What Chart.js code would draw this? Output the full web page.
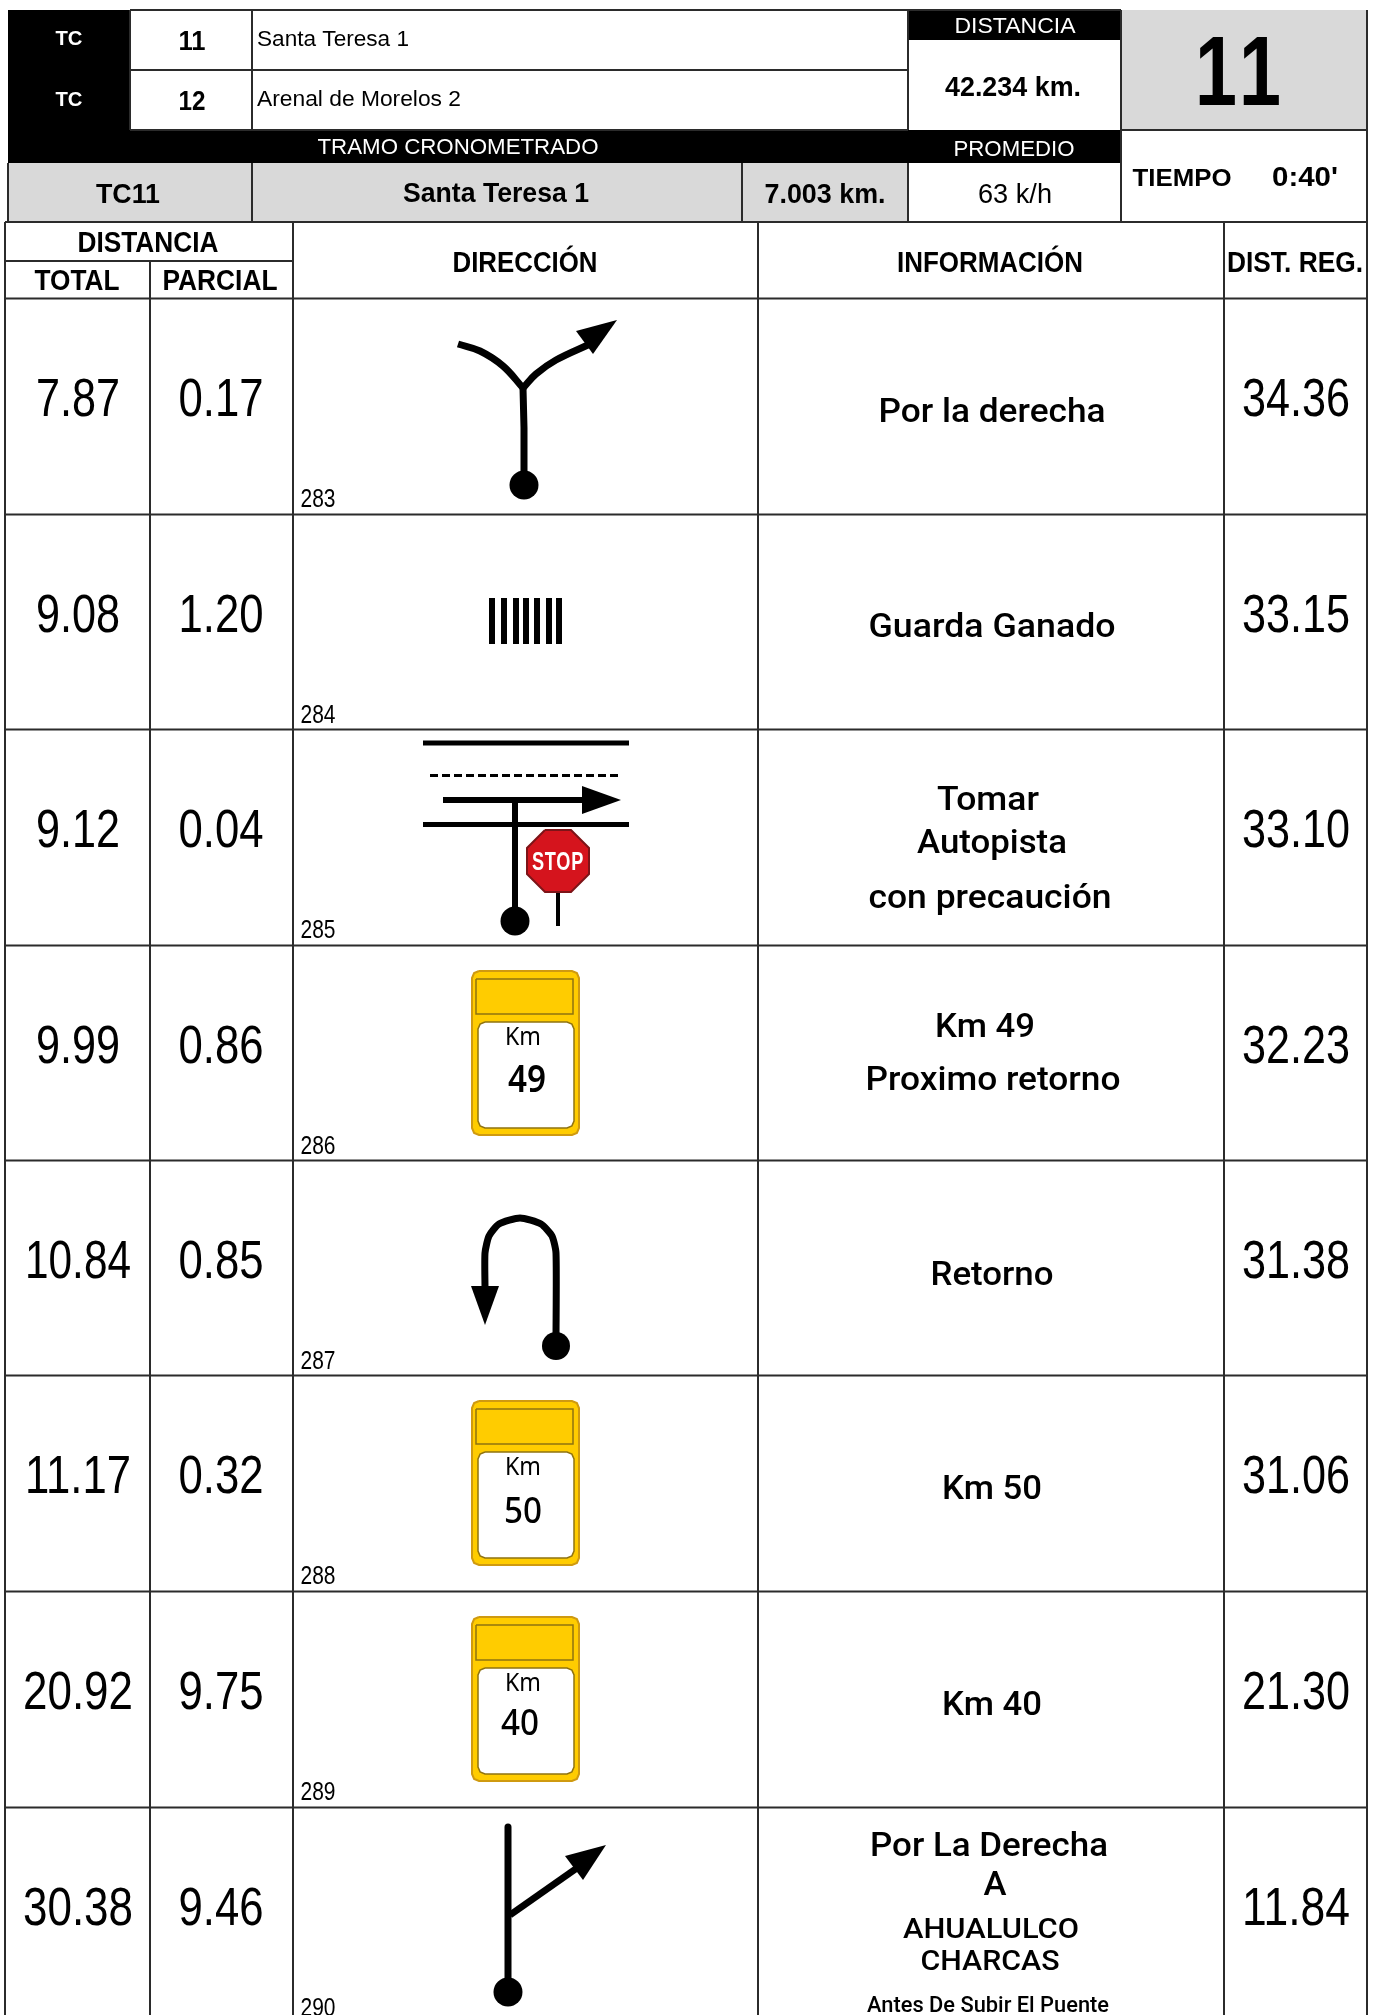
<!DOCTYPE html>
<html>
<head>
<meta charset="utf-8">
<title>TC11 Santa Teresa 1</title>
<style>
  html, body { margin: 0; padding: 0; background: #fff; overflow: hidden; }
  canvas { display: block; }
</style>
<script src="https://cdn.jsdelivr.net/npm/chart.js@4"></script>
</head>
<body>
<canvas id="routeChart" width="1373" height="2015"></canvas>
<script>
// Route table values
const totalKm = ['7.87', '9.08', '9.12', '9.99', '10.84', '11.17', '20.92', '30.38'];
const parcialKm = ['0.17', '1.20', '0.04', '0.86', '0.85', '0.32', '9.75', '9.46'];
const distReg = ['34.36', '33.15', '33.10', '32.23', '31.38', '31.06', '21.30', '11.84'];
const noteNumbers = ['283', '284', '285', '286', '287', '288', '289', '290'];
const infoLines = [
    ['Por la derecha'],
    ['Guarda Ganado'],
    ['Tomar', 'Autopista', 'con precaución'],
    ['Km 49', 'Proximo retorno'],
    ['Retorno'],
    ['Km 50'],
    ['Km 40'],
    ['Por La Derecha', 'A', 'AHUALULCO', 'CHARCAS', 'Antes De Subir El Puente']
];
const signKm = ['49', '50', '40'];

// Table layout, in the axis units of the chart
const rowEdges = [298, 514, 729, 945, 1160, 1375, 1591, 1807];
const totalWidths = [84, 84, 84, 84, 106, 106, 110, 110];
const infoSpec = [
    [[992, 124, 227, 33]],
    [[992, 123, 247, 33]],
    [[988, 81, 102, 33], [992, 124, 150, 33], [990, 179, 243, 33]],
    [[985, 92, 100, 33], [993, 145, 255, 33]],
    [[992, 125, 123, 33]],
    [[992, 124, 100, 33]],
    [[992, 124, 100, 33]],
    [[989, 49, 238, 34], [995, 88, 23, 34], [991, 131, 176, 28], [990, 163, 139, 28], [988, 205, 242, 22]]
];
const signSpec = [[3, 527, 147], [5, 523, 148], [6, 520, 144]];

const SANS = '"Liberation Sans", Arial, sans-serif';
const INFO_FONT = 'Roboto, "Noto Sans", sans-serif';
const SIGN_FONT = '"Noto Sans", sans-serif';
const LINE = '#2b2b2b';
const GREY = '#d9d9d9';

const shapes = [];
const texts = [];

function poly(points, color) {
    shapes.push({ data: points, fill: 'shape', backgroundColor: color, borderWidth: 0, pointRadius: 0 });
}
function box(x0, y0, x1, y1, color) {
    poly([{ x: x0, y: y0 }, { x: x1, y: y0 }, { x: x1, y: y1 }, { x: x0, y: y1 }, { x: x0, y: y0 }], color);
}
function roundBox(x0, y0, x1, y1, r, color, border, bw) {
    const c = r * 0.3;
    const pts = [
        [x0 + r, y0], [x1 - r, y0], [x1 - c, y0 + c], [x1, y0 + r], [x1, y1 - r], [x1 - c, y1 - c],
        [x1 - r, y1], [x0 + r, y1], [x0 + c, y1 - c], [x0, y1 - r], [x0, y0 + r], [x0 + c, y0 + c], [x0 + r, y0]
    ].map(p => ({ x: p[0], y: p[1] }));
    shapes.push({ data: pts, fill: 'shape', backgroundColor: color, borderColor: border, borderWidth: bw, pointRadius: 0 });
}
function stroke(points, width, color, extra) {
    shapes.push(Object.assign({
        data: points.map(p => ({ x: p[0], y: p[1] })),
        borderColor: color || '#000',
        borderWidth: width,
        pointRadius: 0,
        fill: false,
        borderCapStyle: 'butt'
    }, extra || {}));
}
function dot(x, y, r) {
    shapes.push({ data: [{ x: x, y: y }], pointRadius: r, pointBackgroundColor: '#000', pointBorderWidth: 0, showLine: false });
}
function head(top, points) {
    poly(points.concat([points[0]]).map(p => ({ x: p[0], y: top + p[1] })), '#000');
}
function label(s, x, y, w, size, opts) {
    texts.push(Object.assign({ s: s, x: x, y: y, w: w, size: size, weight: 'normal', family: SANS, color: '#000' }, opts || {}));
}
const bold = { weight: 'bold' };
const white = { color: '#fff' };

// Header backgrounds
box(8, 10, 130, 163, '#000');
box(130, 130, 1121, 163, '#000');
box(908, 10, 1121, 40, '#000');
box(8, 163, 908, 222, GREY);
box(1121, 10, 1367, 130, GREY);

// Header rules
[[130, 10, 1121, 10], [130, 70, 908, 70], [130, 130, 908, 130], [1121, 130, 1367, 130], [5, 222, 1367, 222],
 [1367, 10, 1367, 222], [130, 10, 130, 130], [252, 10, 252, 130], [908, 10, 908, 130], [1121, 10, 1121, 222],
 [252, 163, 252, 222], [742, 163, 742, 222], [908, 163, 908, 222], [8, 163, 8, 222]
].forEach(l => stroke([[l[0], l[1]], [l[2], l[3]]], 2, LINE));

// Icons
function fork(top) {
    stroke([[524, top + 178], [524, top + 130], [523, top + 90]], 7);
    stroke([[458, top + 46], [480, top + 53], [503, top + 68], [523, top + 90]], 7, '#000', { tension: 0.4 });
    stroke([[523, top + 90], [536, top + 76], [556, top + 62], [590, top + 46]], 7, '#000', { tension: 0.4 });
    head(top, [[617, 22], [576, 33], [593, 56]]);
    dot(524, top + 187, 14.5);
}
function cattleGrid(top) {
    [492, 504, 516, 526, 537, 549, 559].forEach(x => stroke([[x, top + 84], [x, top + 130]], 6));
}
function motorway(top) {
    stroke([[423, top + 14], [629, top + 14]], 5);
    stroke([[430, top + 46.5], [621, top + 46.5]], 3, '#000', { borderDash: [8, 4] });
    stroke([[443, top + 71], [585, top + 71]], 6);
    head(top, [[582, 57], [621, 71], [582, 85]]);
    stroke([[423, top + 95.5], [629, top + 95.5]], 5);
    stroke([[515, top + 71], [515, top + 190]], 6);
    dot(515, top + 192, 14.5);
    stroke([[558, top + 160], [558, top + 197]], 4);
    const cx = 558, cy = top + 132, a = 31, b = 13;
    const oct = [[-b, -a], [b, -a], [a, -b], [a, b], [b, a], [-b, a], [-a, b], [-a, -b], [-b, -a]]
        .map(p => ({ x: cx + p[0], y: cy + p[1] }));
    shapes.push({ data: oct, fill: 'shape', backgroundColor: '#d5141d', borderColor: '#7d1418', borderWidth: 2, pointRadius: 0 });
    label('STOP', 558, top + 141, 52, 25, { weight: 'bold', color: '#fff', spacing: 1 });
}
function sign(top) {
    roundBox(472, top + 26, 579, top + 190, 7, '#ffcc00', '#cf9a10', 2);
    box(476, top + 34, 573, top + 69, '#ffcc00');
    stroke([[476, top + 34], [573, top + 34], [573, top + 69], [476, top + 69], [476, top + 34]], 1.5, '#8f7310');
    roundBox(478, top + 77, 574, top + 183, 7, '#fff', '#8f7310', 1.5);
}
function uTurn(top) {
    stroke([[556, top + 180], [556, top + 93], [552, top + 76], [541, top + 64], [520, top + 58], [499, top + 64], [489, top + 76], [485, top + 93], [485, top + 128]],
        7, '#000', { tension: 0.2 });
    head(top, [[471, 126], [499, 126], [485, 165]]);
    dot(556, top + 186, 14);
}
function branch(top) {
    stroke([[508, top + 20], [508, top + 185]], 7, '#000', { borderCapStyle: 'round' });
    stroke([[510, top + 108], [577, top + 61]], 7);
    head(top, [[606, 38], [565, 49], [583, 73]]);
    dot(508, top + 185, 14.5);
}
fork(rowEdges[0]);
cattleGrid(rowEdges[1]);
motorway(rowEdges[2]);
sign(rowEdges[3]);
uTurn(rowEdges[4]);
sign(rowEdges[5]);
sign(rowEdges[6]);
branch(rowEdges[7]);

// Body grid
rowEdges.forEach(y => stroke([[5, y + 0.5], [1367, y + 0.5]], 2, LINE));
stroke([[5, 261], [293, 261]], 2, LINE);
[[5, 222], [150, 261], [293, 222], [758, 222], [1224, 222], [1367, 222]].forEach(c =>
    stroke([[c[0], c[1]], [c[0], 2015]], 2, LINE));

// Header text
label('TC', 69, 45, 27, 20, { weight: 'bold', color: '#fff' });
label('TC', 69, 106, 27, 20, { weight: 'bold', color: '#fff' });
label('11', 192, 50, 27, 27, bold);
label('12', 192, 110, 27, 27, bold);
label('Santa Teresa 1', 333, 46, 152, 22);
label('Arenal de Morelos 2', 359, 106, 204, 22);
label('TRAMO CRONOMETRADO', 458, 154, 281, 22, white);
label('TC11', 128, 203, 64, 27, bold);
label('Santa Teresa 1', 496, 202, 186, 27, bold);
label('7.003 km.', 825, 203, 121, 27, bold);
label('63 k/h', 1015, 203, 74, 27);
label('DISTANCIA', 1015, 33, 121, 22, white);
label('42.234 km.', 1013, 96, 136, 27, bold);
label('PROMEDIO', 1014, 156, 121, 22, white);
label('11', 1241, 105, 92, 98, { weight: 'bold', spacing: 8 });
label('TIEMPO', 1182, 186, 99, 24, bold);
label("0:40'", 1305, 186, 66, 27, bold);
label('DISTANCIA', 148, 252, 141, 29, bold);
label('TOTAL', 77, 290, 85, 29, bold);
label('PARCIAL', 220, 290, 115, 29, bold);
label('DIRECCIÓN', 525, 272, 145, 29, bold);
label('INFORMACIÓN', 990, 272, 186, 29, bold);
label('DIST. REG.', 1295, 272, 136, 29, bold);

// Row text
totalKm.forEach((s, i) => {
    const top = rowEdges[i];
    label(s, 78, top + 118, totalWidths[i], 53);
    label(parcialKm[i], 221, top + 118, 85, 53);
    label(distReg[i], 1296, top + 118, 108, 53);
    label(noteNumbers[i], 318, top + 209, 35, 26);
    infoLines[i].forEach((line, j) => {
        const spec = infoSpec[i][j];
        label(line, spec[0], top + spec[1], spec[2], spec[3], { family: INFO_FONT, weight: '500' });
    });
});
signSpec.forEach((spec, i) => {
    const top = rowEdges[spec[0]];
    label('Km', 523, top + 100, 36, 26, { family: SIGN_FONT });
    label(signKm[i], spec[1], top + spec[2], 38, 37, { family: SIGN_FONT, weight: i === 0 ? '600' : '500' });
});

// Later shapes go on top: Chart.js paints the highest order first
shapes.forEach((s, i) => {
    s.order = shapes.length - i;
    if (s.showLine === undefined) s.showLine = true;
});

const tableText = {
    id: 'tableText',
    afterDatasetsDraw(chart) {
        const ctx = chart.ctx;
        const xs = chart.scales.x, ys = chart.scales.y;
        texts.forEach(t => {
            ctx.save();
            ctx.font = `${t.weight} ${t.size}px ${t.family}`;
            if (t.spacing) ctx.letterSpacing = t.spacing + 'px';
            ctx.fillStyle = t.color;
            ctx.textAlign = 'center';
            ctx.textBaseline = 'alphabetic';
            ctx.translate(xs.getPixelForValue(t.x), ys.getPixelForValue(t.y));
            ctx.scale(t.w / ctx.measureText(t.s).width, 1);
            ctx.fillText(t.s, 0, 0);
            ctx.restore();
        });
    }
};

new Chart(document.getElementById('routeChart'), {
    type: 'scatter',
    data: { datasets: shapes },
    plugins: [tableText],
    options: {
        responsive: false,
        animation: false,
        layout: { padding: 0, autoPadding: false },
        plugins: { legend: { display: false }, tooltip: { enabled: false }, title: { display: false } },
        scales: {
            x: { type: 'linear', min: 0, max: 1373, display: false },
            y: { type: 'linear', min: 0, max: 2015, reverse: true, display: false }
        }
    }
});
</script>
</body>
</html>
